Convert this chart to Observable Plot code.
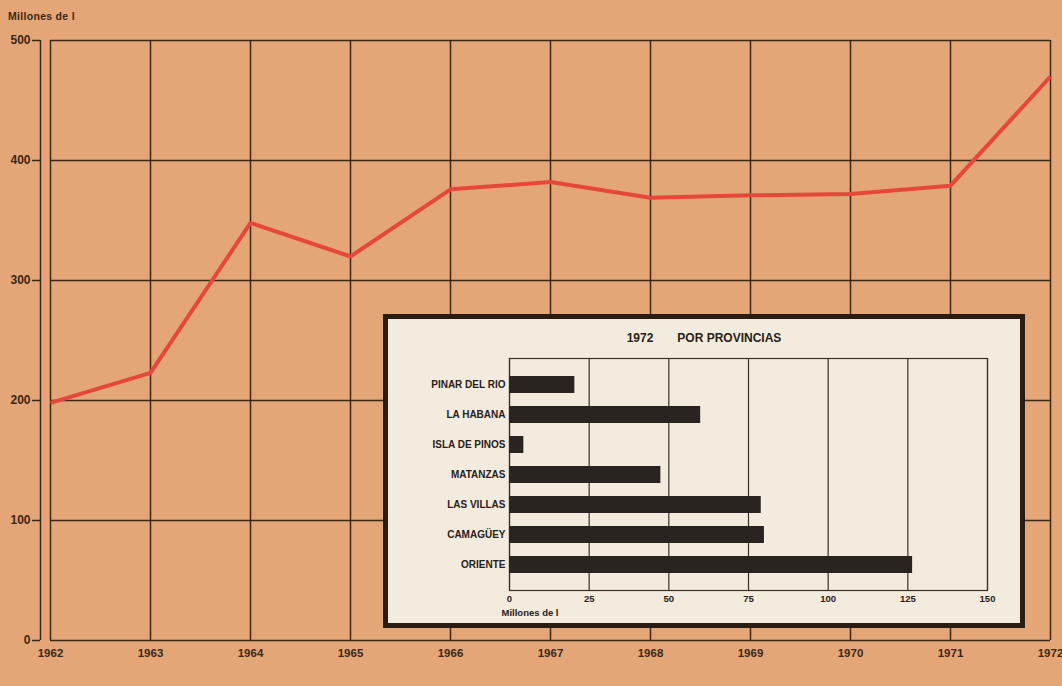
<!DOCTYPE html>
<html>
<head>
<meta charset="utf-8">
<script src="https://cdn.jsdelivr.net/npm/d3@7"></script>
<script src="https://cdn.jsdelivr.net/npm/@observablehq/plot@0.6"></script>
<style>
  html, body { margin: 0; padding: 0; background: #e4a677; }
  #wrap { position: relative; width: 1062px; height: 686px; overflow: hidden; background: #e4a677;
          font-family: "Liberation Sans", Arial, sans-serif; }
  #ylab { position: absolute; left: 8px; top: 10px; font-size: 10.5px; font-weight: bold; color: #3a2818; letter-spacing: 0.3px; }
  #main { position: absolute; left: 0; top: 0; }
  #inset { position: absolute; left: 383px; top: 314px; width: 632px; height: 304px;
           border: 5px solid #2a1d14; background: #f3ebdd; }
  #ititle { height: 37px; box-sizing: border-box; padding-top: 12px; text-align: center;
            font-size: 12px; font-weight: bold; color: #2a2018; line-height: 14px; }
  #ititle span.gap { display: inline-block; width: 24px; }
</style>
</head>
<body>
<div id="wrap">
  <div id="main"></div>
  <div id="ylab">Millones de l</div>
  <div id="inset">
    <div id="ititle">1972<span class="gap"></span>POR PROVINCIAS</div>
    <div id="ichart"></div>
  </div>
</div>
<script>
// Main series: production, millions of litres
const years = [1962, 1963, 1964, 1965, 1966, 1967, 1968, 1969, 1970, 1971, 1972];
const production = [198, 223, 348, 320, 376, 382, 369, 371, 372, 379, 470];
const yTicks = [0, 100, 200, 300, 400, 500];

// Inset: 1972 by province, millions of litres
const provinces = ["PINAR DEL RIO", "LA HABANA", "ISLA DE PINOS", "MATANZAS", "LAS VILLAS", "CAMAGÜEY", "ORIENTE"];
const provinceValues = [20.5, 60, 4.5, 47.5, 79, 80, 126.5];
const insetTicks = [0, 25, 50, 75, 100, 125, 150];
const insetUnit = "Millones de l";

const gridColor = "#3a2818";
const lineColor = "#e5483a";

const series = years.map((y, i) => ({year: y, value: production[i]}));

const main = Plot.plot({
  width: 1062,
  height: 686,
  marginLeft: 50,
  marginRight: 12,
  marginTop: 40,
  marginBottom: 46,
  style: {background: "transparent", fontFamily: "Liberation Sans, Arial, sans-serif", color: gridColor, overflow: "visible"},
  x: {domain: [1962, 1972], ticks: years},
  y: {domain: [0, 500], ticks: yTicks},
  marks: [
    Plot.gridX(years, {stroke: gridColor, strokeOpacity: 1, strokeWidth: 1.5}),
    Plot.gridY(yTicks, {stroke: gridColor, strokeOpacity: 1, strokeWidth: 1.5}),
    Plot.ruleX([1962], {y1: 0, y2: 500, dx: -10, stroke: gridColor, strokeWidth: 1.5}),
    Plot.axisY(yTicks, {tickSize: 8, tickPadding: 2, dx: -10, stroke: gridColor, strokeWidth: 1.5,
      fontSize: 12, fontWeight: "bold", fill: gridColor, label: null}),
    Plot.axisX(years, {tickSize: 0, tickPadding: 8, tickFormat: d => String(d),
      fontSize: 11.5, fontWeight: "bold", fill: gridColor, label: null}),
    Plot.line(series, {x: "year", y: "value", stroke: lineColor, strokeWidth: 4, strokeLinejoin: "miter", strokeLinecap: "butt"})
  ]
});
document.getElementById("main").appendChild(main);

const bars = provinces.map((p, i) => ({province: p, value: provinceValues[i]}));
const insetColor = "#2a2420";

const inset = Plot.plot({
  width: 632,
  height: 267,
  marginTop: 2,
  marginLeft: 121,
  marginRight: 33,
  marginBottom: 33,
  style: {background: "transparent", fontFamily: "Liberation Sans, Arial, sans-serif", color: insetColor, overflow: "visible"},
  x: {domain: [0, 150], ticks: insetTicks},
  y: {domain: provinces, paddingInner: 0.45, paddingOuter: 0.5},
  marks: [
    Plot.gridX(insetTicks, {stroke: "#3a302a", strokeOpacity: 1, strokeWidth: 1.2}),
    Plot.frame({stroke: "#3a302a", strokeWidth: 1.2}),
    Plot.barX(bars, {x: "value", y: "province", fill: insetColor}),
    Plot.axisY({tickSize: 0, tickPadding: 4, fontSize: 10, fontWeight: "bold", fill: "#2a2018", label: null}),
    Plot.axisX(insetTicks, {tickSize: 0, tickPadding: 5, fontSize: 9.5, fontWeight: "bold", fill: "#2a2018", label: null}),
    Plot.text([insetUnit], {frameAnchor: "bottom-left", textAnchor: "start", dx: -8, dy: 25,
      fontSize: 9.5, fontWeight: "bold", fill: "#2a2018"})
  ]
});
document.getElementById("ichart").appendChild(inset);
</script>
</body>
</html>
